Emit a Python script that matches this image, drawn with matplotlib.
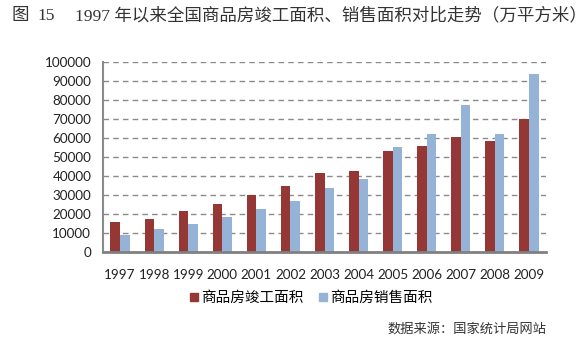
import matplotlib
matplotlib.use("Agg")
import matplotlib.pyplot as plt
from matplotlib.lines import Line2D
import numpy as np

plt.rcParams['font.family'] = ['Noto Sans CJK SC', 'DejaVu Sans']

years = ['1997', '1998', '1999', '2000', '2001', '2002', '2003',
         '2004', '2005', '2006', '2007', '2008', '2009']
completed = [15820, 17567, 21411, 25105, 29867, 34976, 41464,
             42465, 53417, 55831, 60607, 58502, 70219]
sold = [9010, 12185, 14557, 18637, 22412, 26808, 33718,
        38232, 55486, 61857, 77355, 62089, 93713]
series_names = ['商品房竣工面积', '商品房销售面积']
yticks = [0, 10000, 20000, 30000, 40000, 50000, 60000, 70000, 80000, 90000, 100000]

red = '#953735'
blue = '#95B3D7'

fig = plt.figure(figsize=(5.88, 3.41), dpi=100)
ax = fig.add_axes([103/588, 1-252/341, (546-103)/588, (252-62)/341])

x = np.arange(len(years))
w = 0.28
ax.bar(x - w/2, completed, width=w, color=red, zorder=3)
ax.bar(x + w/2, sold, width=w, color=blue, zorder=3)

ax.set_xlim(-0.5, len(years) - 0.5)
ax.set_ylim(0, 100000)
ax.set_yticks(yticks)
ax.set_yticklabels([str(v) for v in yticks], fontfamily='Lato', fontsize=9.7)
ax.set_xticks(x)
ax.set_xticklabels(years, fontfamily='Lato', fontsize=9.7)
ax.tick_params(axis='both', length=0, colors='#222222')
ax.tick_params(axis='y', pad=8.5)
ax.tick_params(axis='x', pad=12)

ax.yaxis.grid(True, linestyle=(0, (4, 3)), color='#8a8a8a', linewidth=1.0, zorder=0)
ax.spines['top'].set_visible(False)
ax.spines['right'].set_visible(False)
ax.spines['left'].set_color('#8a8a8a')
ax.spines['left'].set_linewidth(1.5)
ax.spines['bottom'].set_color('#808080')
ax.spines['bottom'].set_linewidth(2)
ax.spines['bottom'].set_zorder(4)

handles = [Line2D([], [], marker='s', linestyle='none', markersize=6, color=red),
           Line2D([], [], marker='s', linestyle='none', markersize=6, color=blue)]
fig.legend(handles, series_names, loc='center', bbox_to_anchor=(0.529, 1-298/341),
           ncol=2, frameon=False, fontsize=10.5, handlelength=0.6, handletextpad=0.2,
           columnspacing=1.0)

title_font = ['Liberation Serif', 'Noto Sans CJK SC']
ty = 1 - 16/341
fig.text(12/588, ty, '图', fontsize=12.6, va='center', ha='left', color='#333333',
         family=title_font)
fig.text(37/588, ty, '15', fontsize=12.6, va='center', ha='left', color='#333333',
         family=title_font)
fig.text(75/588, ty, '1997 年以来全国商品房竣工面积、销售面积对比走势（万平方米）',
         fontsize=12.6, va='center', ha='left', color='#333333', family=title_font)
fig.text(546/588, 1-329/341, '数据来源：国家统计局网站', fontsize=9.5,
         va='center', ha='right', color='#333333')

fig.savefig('out.png', dpi=100)
